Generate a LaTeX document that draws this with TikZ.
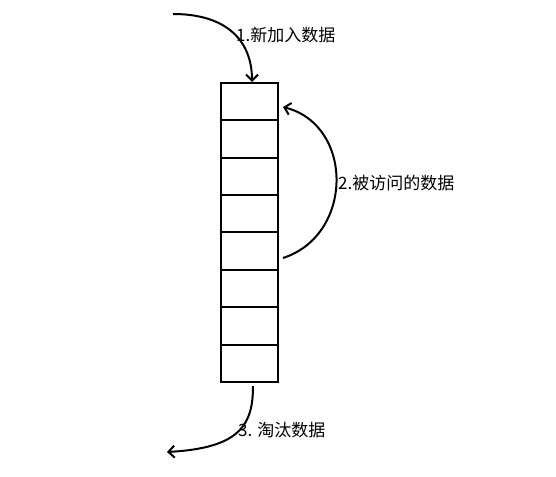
\documentclass[tikz,border=0pt]{standalone}
\usepackage{fontspec}
\newfontfamily\cjk{Noto Sans CJK SC}
\usetikzlibrary{arrows.meta}
\tikzset{
  cell/.style={draw=black, line width=2pt, minimum width=57pt, minimum height=37.4pt, inner sep=0pt, outer sep=0pt, anchor=north west},
  flow/.style={line width=2pt, -{Straight Barb[length=6pt,width=12pt,line width=2pt]}},
  lbl/.style={font=\cjk\fontsize{17}{20}\selectfont, anchor=west, inner sep=0pt}
}
\begin{document}
\begin{tikzpicture}[x=1pt,y=-1pt]
\useasboundingbox (0,0) rectangle (556,476);
\foreach \i in {1,...,8}{
  \node[cell] (b\i) at (221,{82.7+(\i-1)*37.4}) {};
}
\coordinate (s1) at (173,14);
\coordinate (t1) at (252,82);
\coordinate (s2) at (283,258);
\coordinate (t2) at (283,107);
\coordinate (s3) at (253,386);
\coordinate (t3) at (167,452);
\draw[flow] (s1) .. controls (228,14) and (252,42) .. (t1);
\draw[flow] (s2) .. controls (354,235) and (354,125) .. (t2);
\draw[flow] (s3) .. controls (253,425) and (240,448) .. (t3);
\node[lbl] (l1) at (236,35) {1.新加入数据};
\node[lbl] (l2) at (338,183) {2.被访问的数据};
\node[lbl] (l3) at (238,430) {3. 淘汰数据};
\end{tikzpicture}
\end{document}
